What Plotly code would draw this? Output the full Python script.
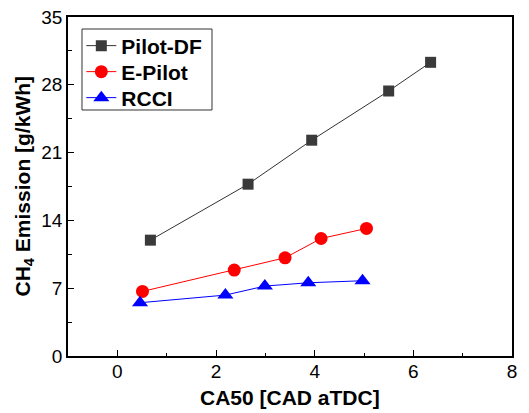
import plotly.graph_objects as go

pilot_df_x = [0.67, 2.65, 3.94, 5.50, 6.35]
pilot_df_y = [11.96, 17.74, 22.28, 27.36, 30.32]
e_pilot_x = [0.51, 2.37, 3.40, 4.13, 5.05]
e_pilot_y = [6.67, 8.87, 10.14, 12.13, 13.17]
rcci_x = [0.46, 2.19, 2.99, 3.87, 4.97]
rcci_y = [5.50, 6.29, 7.22, 7.56, 7.77]

x_ticks = [0, 2, 4, 6, 8]
y_ticks = [0, 7, 14, 21, 28, 35]

FONT = "Liberation Sans, Arial, sans-serif"

fig = go.Figure()
fig.add_trace(go.Scatter(x=pilot_df_x, y=pilot_df_y, mode="lines+markers", name="Pilot-DF",
                         line=dict(color="#333333", width=1), legend="legend",
                         marker=dict(symbol="square", size=11, color="#3a3a3a")))
fig.add_trace(go.Scatter(x=e_pilot_x, y=e_pilot_y, mode="lines+markers", name="E-Pilot",
                         line=dict(color="#ff0000", width=1), legend="legend2",
                         marker=dict(symbol="circle", size=13, color="#ff0000")))
fig.add_trace(go.Scatter(x=rcci_x, y=rcci_y, mode="lines+markers", name="RCCI",
                         line=dict(color="#0000ff", width=1), legend="legend3",
                         marker=dict(symbol="triangle-up", size=14, color="#0000ff")))

leg_common = dict(x=0.03, xanchor="left", yanchor="middle", borderwidth=0,
                  bgcolor="rgba(0,0,0,0)",
                  font=dict(family=FONT, size=21, color="black", weight="bold"),
                  itemwidth=30)

fig.update_layout(
    width=529, height=413,
    margin=dict(l=68, r=17, t=17, b=57, autoexpand=False),
    paper_bgcolor="white", plot_bgcolor="white",
    font=dict(family=FONT, color="black"),
    showlegend=True,
    legend=dict(y=0.9145, **leg_common),
    legend2=dict(y=0.8378, **leg_common),
    legend3=dict(y=0.7611, **leg_common),
    shapes=[dict(type="rect", xref="paper", yref="paper", x0=0.0315, x1=0.3243,
                 y0=0.7257, y1=0.9646, line=dict(color="#333333", width=1),
                 fillcolor="white", layer="below")],
    annotations=[
        dict(text="CA50 [CAD aTDC]", xref="paper", yref="paper", x=0.5, y=0,
             yshift=-41, xanchor="center", yanchor="middle", showarrow=False,
             font=dict(size=21, family=FONT, weight="bold")),
        dict(text="CH<sub>4</sub> Emission [g/kWh]", xref="paper", yref="paper", x=0, y=0.5,
             xshift=-45, xanchor="center", yanchor="middle", showarrow=False, textangle=-90,
             font=dict(size=21, family=FONT, weight="bold")),
    ],
)
fig.update_xaxes(range=[-1, 8], tickvals=x_ticks, ticktext=[str(v) for v in x_ticks],
                 automargin=False,
                 showgrid=False, zeroline=False, showline=True, linecolor="black", linewidth=1.5,
                 mirror=True, ticks="inside", ticklen=6, tickwidth=1, tickcolor="black",
                 minor=dict(ticks="inside", ticklen=3, dtick=1, tickcolor="black", showgrid=False),
                 tickfont=dict(size=19, family=FONT), ticklabelstandoff=-3)
fig.update_yaxes(range=[0, 35], tickvals=y_ticks, ticktext=[str(v) for v in y_ticks],
                 automargin=False,
                 showgrid=False, zeroline=False, showline=True, linecolor="black", linewidth=1.5,
                 mirror=True, ticks="inside", ticklen=6, tickwidth=1, tickcolor="black",
                 minor=dict(ticks="inside", ticklen=4, dtick=3.5, tickcolor="black", showgrid=False),
                 tickfont=dict(size=19, family=FONT))

fig.write_html("out.html", config={"displayModeBar": False},
               post_script="document.body.style.margin='0';document.body.style.overflow='hidden';")
